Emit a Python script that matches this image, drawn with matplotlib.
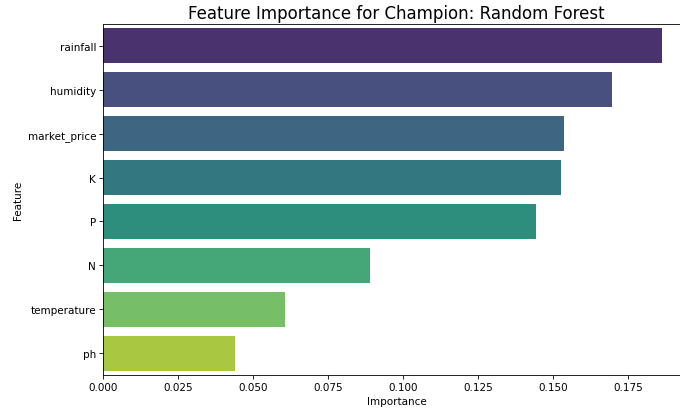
import matplotlib
matplotlib.use("Agg")
import matplotlib.pyplot as plt
import seaborn as sns
import pandas as pd

features = ["rainfall", "humidity", "market_price", "K", "P", "N", "temperature", "ph"]
importance = [0.1862, 0.1696, 0.1534, 0.1526, 0.1442, 0.0890, 0.0604, 0.0438]

df = pd.DataFrame({"Feature": features, "Importance": importance})

fig = plt.figure(figsize=(6.8, 4.14), dpi=100)
ax = fig.add_axes([103.3 / 680, 1 - 376 / 414, (690 - 103.3) / 680, (376 - 25) / 414])

sns.barplot(data=df, x="Importance", y="Feature", hue="Feature", palette="viridis", legend=False, ax=ax)

ax.set_title("Feature Importance for Champion: Random Forest", fontsize=12, pad=4.5)
ax.set_xlabel("Importance", fontsize=7.5, labelpad=2.5)
ax.set_ylabel("Feature", fontsize=7.5, labelpad=3)
ax.tick_params(labelsize=7.5, length=2.6, width=0.6, pad=2.6)
for s in ax.spines.values():
    s.set_linewidth(0.6)

fig.savefig("out.png", dpi=100)
